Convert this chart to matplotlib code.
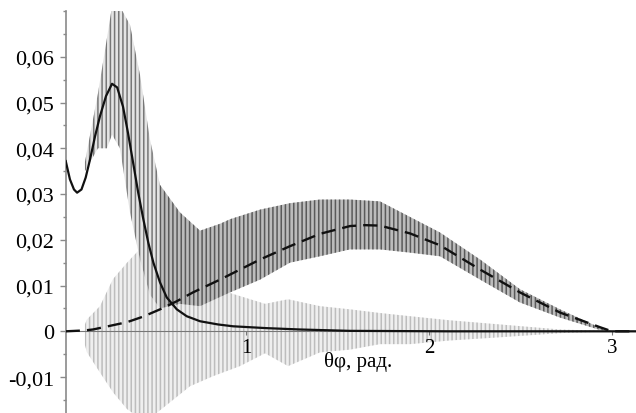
import numpy as np
import matplotlib
matplotlib.use('Agg')
import matplotlib.pyplot as plt
from matplotlib.ticker import MultipleLocator

plt.rcParams['font.family'] = ['Liberation Serif', 'DejaVu Serif']
plt.rcParams['hatch.linewidth'] = 1.1

# ---- data ----
# solid black curve
solid_x = [0.015, 0.038, 0.060, 0.077, 0.101, 0.124, 0.148, 0.175, 0.202, 0.235, 0.268,
           0.296, 0.328, 0.355, 0.383, 0.411, 0.439, 0.466, 0.494, 0.530, 0.567, 0.622,
           0.676, 0.749, 0.847, 0.929, 1.110, 1.295, 1.568, 2.115, 3.000, 3.131]
solid_y = [0.0372, 0.0332, 0.0310, 0.0303, 0.0310, 0.0336, 0.0376, 0.0426, 0.0470, 0.0514, 0.0541,
           0.0533, 0.0491, 0.0434, 0.0369, 0.0303, 0.0245, 0.0194, 0.0150, 0.0107, 0.0074, 0.0048,
           0.0033, 0.0022, 0.0015, 0.0011, 0.0007, 0.0004, 0.0001, 0.0, 0.0, 0.0]

# dashed black curve
dash_x = [0.015, 0.120, 0.164, 0.257, 0.350, 0.437, 0.530, 0.623, 0.710, 0.858, 1.077, 1.240,
          1.404, 1.568, 1.650, 1.732, 1.896, 2.060, 2.279, 2.497, 2.716, 2.934, 3.000, 3.131]
dash_y = [0.0, 0.0002, 0.0004, 0.0012, 0.0020, 0.0032, 0.0048, 0.0066, 0.0085, 0.0113, 0.0157, 0.0186,
          0.0213, 0.0230, 0.0232, 0.0231, 0.0214, 0.0188, 0.0135, 0.0085, 0.0041, 0.0009, 0.0, 0.0]

# dark oscillating series: envelope
dark_x = [0.120, 0.191, 0.240, 0.268, 0.311, 0.366, 0.421, 0.475, 0.530, 0.639, 0.749, 0.858,
          0.913, 1.077, 1.240, 1.404, 1.568, 1.732, 1.896, 2.060, 2.279, 2.497, 2.716, 2.934, 3.000]
dark_hi = [0.037, 0.052, 0.064, 0.071, 0.071, 0.067, 0.056, 0.042, 0.032, 0.026, 0.022, 0.0235,
           0.0245, 0.0266, 0.028, 0.0288, 0.0288, 0.0284, 0.025, 0.0216, 0.0157, 0.0092, 0.0048, 0.0008, 0.0]
dark_lo = [0.035, 0.040, 0.040, 0.043, 0.040, 0.026, 0.0157, 0.008, 0.005, 0.006, 0.0055, 0.0075,
           0.0085, 0.0113, 0.015, 0.0164, 0.0179, 0.0179, 0.0172, 0.0164, 0.0113, 0.0063, 0.003, 0.0003, 0.0]

# light oscillating series: envelope
light_x = [0.120, 0.131, 0.202, 0.273, 0.350, 0.421, 0.475, 0.557, 0.694, 0.820, 0.967, 1.104,
           1.230, 1.404, 1.568, 1.732, 1.896, 2.115, 2.388, 2.716, 2.934]
light_hi = [0.0015, 0.0026, 0.0055, 0.0114, 0.015, 0.018, 0.021, 0.019, 0.014, 0.0095, 0.0077, 0.0060,
            0.0070, 0.0055, 0.0048, 0.0040, 0.0033, 0.0024, 0.0015, 0.0004, 0.0001]
light_lo = [-0.003, -0.0046, -0.009, -0.0133, -0.017, -0.019, -0.019, -0.0164, -0.012, -0.0098, -0.0076, -0.0048,
            -0.0076, -0.0046, -0.004, -0.0028, -0.0028, -0.002, -0.0013, -0.0004, -0.0001]

ytick_values = [-0.01, 0.0, 0.01, 0.02, 0.03, 0.04, 0.05, 0.06]
ytick_labels = ['-0,01', '0', '0,01', '0,02', '0,03', '0,04', '0,05', '0,06']
xtick_values = [1, 2, 3]
xtick_labels = ['1', '2', '3']
xlabel_text = 'θφ, рад.'

# ---- figure ----
fig = plt.figure(figsize=(6.36, 4.14), dpi=100)
ax = fig.add_axes([0.1033, 0.0, 0.8967, 0.971])
ax.set_xlim(0.0148, 3.131)
ax.set_ylim(-0.01785, 0.0700)

ax.fill_between(light_x, light_lo, light_hi, facecolor='#efefef', edgecolor='#bdbdbd',
                hatch='||||', linewidth=0, zorder=1)
# peak part of the dark series (spikes with white gaps), then the main body
k = 9
ax.fill_between(dark_x[:k], dark_lo[:k], dark_hi[:k], facecolor='#e4e4e4', edgecolor='#777777',
                hatch='||||', linewidth=0, zorder=2)
ax.fill_between(dark_x[k - 1:], dark_lo[k - 1:], dark_hi[k - 1:], facecolor='#bcbcbc',
                edgecolor='#5a5a5a', hatch='||||', linewidth=0, zorder=2)

ax.plot(solid_x, solid_y, color='#111111', lw=1.6, zorder=5)
ax.plot(dash_x, dash_y, color='#111111', lw=1.7, dashes=(6, 3), zorder=5)

for s in ['top', 'right']:
    ax.spines[s].set_visible(False)
ax.spines['bottom'].set_position(('data', 0))
ax.spines['bottom'].set_color('#777777')
ax.spines['bottom'].set_linewidth(0.8)
ax.spines['left'].set_color('#8a8a8a')
ax.spines['left'].set_linewidth(1.2)
for s in ax.spines.values():
    s.set_zorder(4)

ax.set_yticks(ytick_values)
ax.set_yticklabels(ytick_labels)
ax.yaxis.set_minor_locator(MultipleLocator(0.005))
ax.set_xticks(xtick_values)
ax.set_xticklabels(xtick_labels)

ax.tick_params(axis='y', which='major', length=4.5, width=1, color='#8a8a8a',
               direction='out', labelsize=16, pad=4)
ax.tick_params(axis='y', which='minor', length=2.2, width=1, color='#8a8a8a', direction='out')
ax.tick_params(axis='x', which='major', length=3, width=0.8, color='#777777',
               direction='out', labelsize=15, pad=2)

ax.text(1.612, -0.0065, xlabel_text, fontsize=15, ha='center', va='center', zorder=6)

fig.savefig('out.png', dpi=100)
